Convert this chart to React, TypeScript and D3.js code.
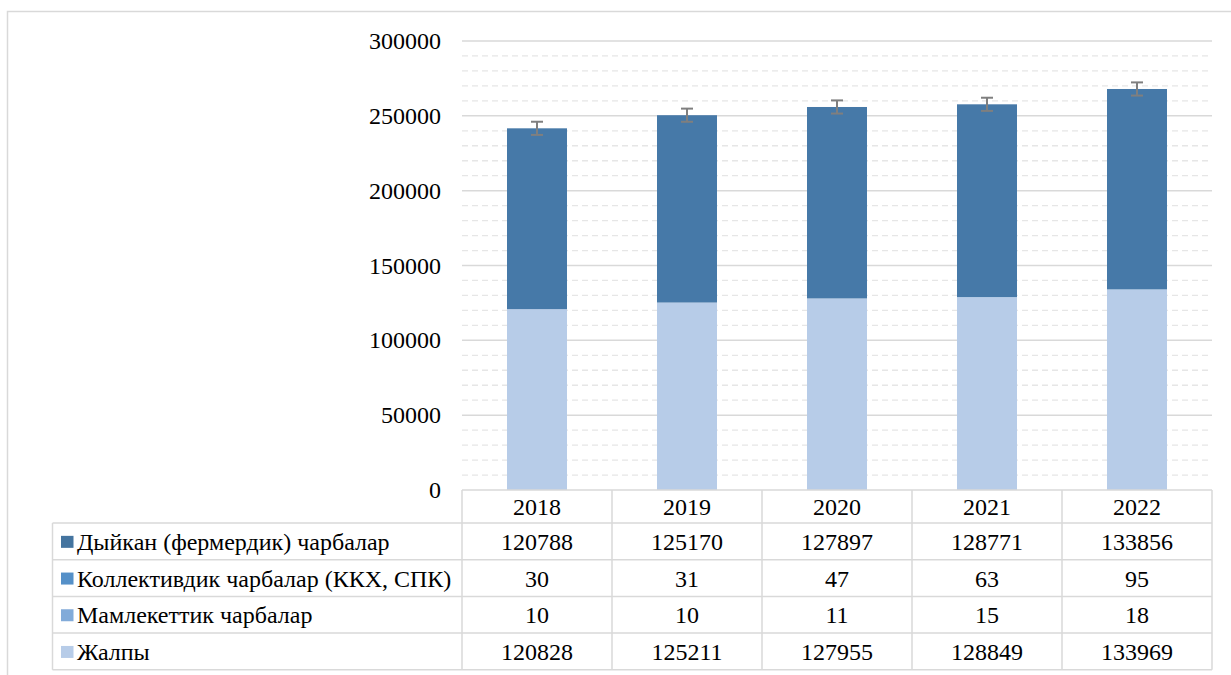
import * as d3 from "d3";

const YEARS = ["2018", "2019", "2020", "2021", "2022"];
const SERIES_NAMES = [
  "Дыйкан (фермердик) чарбалар",
  "Коллективдик чарбалар (ККХ, СПК)",
  "Мамлекеттик чарбалар",
  "Жалпы",
];
const DYIKAN = [120788, 125170, 127897, 128771, 133856];
const KOLLEKTIV = [30, 31, 47, 63, 95];
const MAMLEKET = [10, 10, 11, 15, 18];
const JALPY = [120828, 125211, 127955, 128849, 133969];
const ERRORS = [4400, 4400, 4400, 4400, 4400];
const Y_TICKS = [0, 50000, 100000, 150000, 200000, 250000, 300000];

const COLORS = ["#4679a8", "#5590c8", "#82abd9", "#b7cce8"];
const KEY_COLORS = ["#44749f", "#5590c8", "#82abd9", "#b7cce8"];

const W = 1231;
const H = 675;
const PLOT = { left: 462, right: 1212, top: 41, bottom: 490 };
const ROW_H = 36.7;
const HEADER_H = 33;
const TABLE_LEFT = 52.5;
const FS = 24;
const GRID = "#d9d9d9";
const SERIF = '"Times New Roman", "Liberation Serif", Tinos, FreeSerif';

function T(props: any) {
  const { children, ...rest } = props;
  return (
    <text className="lbl" fontSize={FS} fill="#000" fontFamily={SERIF} {...rest}>
      {children}
    </text>
  );
}

export default function App() {
  const x = d3
    .scaleBand<string>()
    .domain(YEARS)
    .range([PLOT.left, PLOT.right])
    .paddingInner(0)
    .paddingOuter(0);
  const y = d3.scaleLinear().domain([0, 300000]).range([PLOT.bottom, PLOT.top]);
  const barW = x.bandwidth() * 0.4;

  // stack bottom -> top: Жалпы, Мамлекеттик, Коллективдик, Дыйкан
  const rows = YEARS.map((yr, i) => ({
    year: yr,
    jalpy: JALPY[i],
    mamleket: MAMLEKET[i],
    kollektiv: KOLLEKTIV[i],
    dyikan: DYIKAN[i],
  }));
  const keys = ["jalpy", "mamleket", "kollektiv", "dyikan"];
  const keyColor: Record<string, string> = {
    jalpy: COLORS[3],
    mamleket: COLORS[2],
    kollektiv: COLORS[1],
    dyikan: COLORS[0],
  };
  const stacked = d3.stack<any>().keys(keys)(rows);

  const minorTicks = d3.range(0, 300001, 10000).filter((v) => v % 50000 !== 0);

  const tableRows = [DYIKAN, KOLLEKTIV, MAMLEKET, JALPY];
  const tableTop = PLOT.bottom + HEADER_H;
  const tableBottom = tableTop + ROW_H * tableRows.length;
  const colEdges = [...YEARS.map((yr) => x(yr)!), PLOT.right];

  return (
    <svg
      width={W}
      height={H}
      fontFamily={SERIF}
      style={{ display: "block", position: "absolute", left: 0, top: 0, background: "#fff" }}
    >
      <style>{`.lbl { font-family: ${SERIF} !important; }`}</style>
      <rect x={7.5} y={11.5} width={W + 20} height={H + 20} fill="none" stroke={GRID} strokeWidth={1.5} />

      {/* minor grid */}
      {minorTicks.map((t) => (
        <line
          key={"m" + t}
          x1={PLOT.left}
          x2={PLOT.right}
          y1={y(t)}
          y2={y(t)}
          stroke="#e6e6e6"
          strokeWidth={1.3}
          strokeDasharray="6,4"
        />
      ))}
      {/* major grid */}
      {Y_TICKS.filter((t) => t > 0).map((t) => (
        <line key={"g" + t} x1={PLOT.left} x2={PLOT.right} y1={y(t)} y2={y(t)} stroke={GRID} strokeWidth={1.5} />
      ))}

      {/* y tick labels */}
      {Y_TICKS.map((t) => (
        <T key={"t" + t} x={441} y={y(t) + 8} textAnchor="end">
          {t}
        </T>
      ))}

      {/* bars */}
      {stacked.map((layer) => (
        <g key={layer.key} fill={keyColor[layer.key]}>
          {layer.map((d, i) => (
            <rect
              key={i}
              x={x(YEARS[i])! + (x.bandwidth() - barW) / 2}
              y={y(d[1])}
              width={barW}
              height={Math.max(0, y(d[0]) - y(d[1]))}
            />
          ))}
        </g>
      ))}

      {/* error bars */}
      {stacked[stacked.length - 1].map((d, i) => {
        const cx = x(YEARS[i])! + x.bandwidth() / 2;
        const top = y(d[1] + ERRORS[i]);
        const bot = y(d[1] - ERRORS[i]);
        return (
          <g key={"e" + i} stroke="#7f7f7f" strokeWidth={2}>
            <line x1={cx} x2={cx} y1={top} y2={bot} />
            <line x1={cx - 6} x2={cx + 6} y1={top} y2={top} />
            <line x1={cx - 6} x2={cx + 6} y1={bot} y2={bot} />
          </g>
        );
      })}

      {/* data table */}
      <g stroke={GRID} strokeWidth={1.5} fill="none">
        <line x1={PLOT.left} x2={PLOT.right} y1={PLOT.bottom} y2={PLOT.bottom} />
        {tableRows.map((_, r) => (
          <line key={"h" + r} x1={TABLE_LEFT} x2={PLOT.right} y1={tableTop + ROW_H * r} y2={tableTop + ROW_H * r} />
        ))}
        <line x1={TABLE_LEFT} x2={PLOT.right} y1={tableBottom} y2={tableBottom} />
        <line x1={TABLE_LEFT} x2={TABLE_LEFT} y1={tableTop} y2={tableBottom} />
        {colEdges.map((cx, i) => (
          <line key={"v" + i} x1={cx} x2={cx} y1={PLOT.bottom} y2={tableBottom} />
        ))}
      </g>

      {YEARS.map((yr) => (
        <T key={"y" + yr} x={x(yr)! + x.bandwidth() / 2} y={PLOT.bottom + HEADER_H / 2 + 8.5} textAnchor="middle">
          {yr}
        </T>
      ))}

      {tableRows.map((vals, r) => {
        const cy = tableTop + ROW_H * r + ROW_H / 2;
        return (
          <g key={"r" + r}>
            <rect x={61} y={cy - 5.5} width={12.5} height={12} fill={KEY_COLORS[r]} />
            <T x={77} y={cy + 8.5}>
              {SERIES_NAMES[r]}
            </T>
            {vals.map((v, i) => (
              <T key={i} x={x(YEARS[i])! + x.bandwidth() / 2} y={cy + 8.5} textAnchor="middle">
                {v}
              </T>
            ))}
          </g>
        );
      })}
    </svg>
  );
}
